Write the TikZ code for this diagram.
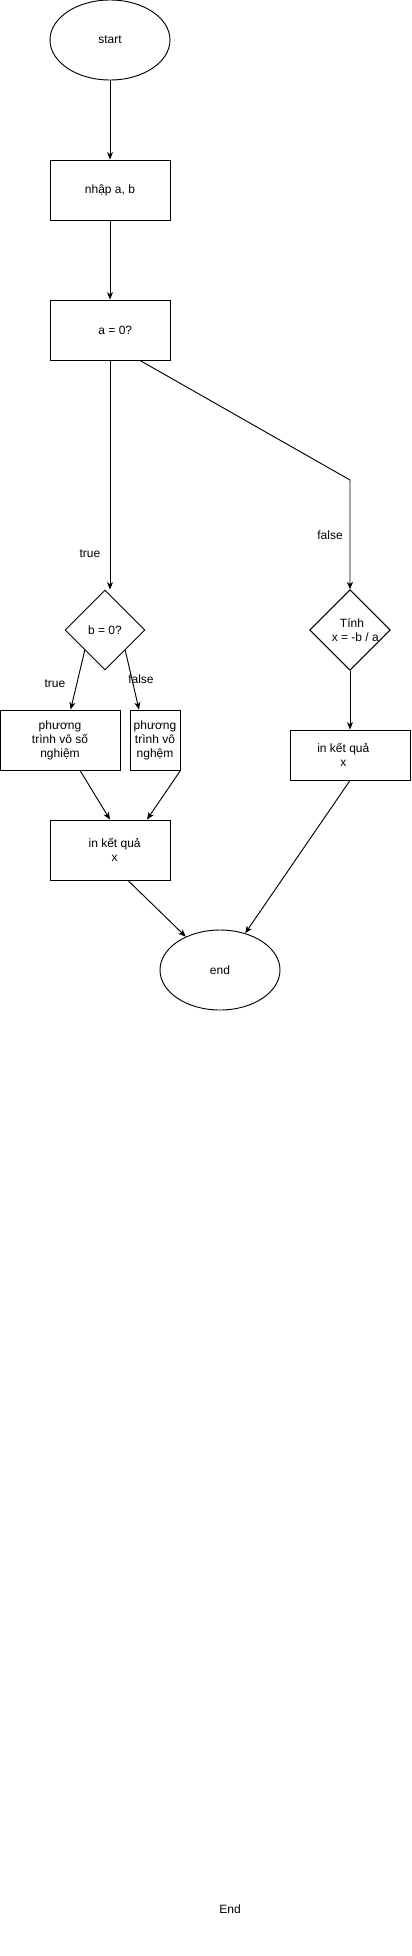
\documentclass[tikz,border=0pt]{standalone}
\usepackage{fontspec}
\setmainfont{Liberation Sans}
\usetikzlibrary{shapes.geometric, arrows.meta}

\begin{document}
\begin{tikzpicture}[x=0.75pt, y=-0.75pt, line width=0.7pt, font=\fontsize{9}{10.5}\selectfont,
		>={Stealth[length=5.5pt, width=4.5pt, inset=1.5pt]},
		term/.style={draw, ellipse, minimum width=90pt, minimum height=60pt},
		box/.style={draw, rectangle, minimum width=90pt, minimum height=45pt, align=center, inner sep=1pt},
		cond/.style={draw, diamond, minimum width=60pt, minimum height=60pt, inner sep=0pt, align=center}]
				\useasboundingbox (0, 0) rectangle (411, 1956);
				\node[term] (start)at(110, 40) {start};
				\node[box] (input)at(110, 190) {nhập a, b};
				\node[box] (condA)at(110, 330) {\hspace{8pt}a = 0?};
				\node[cond] (condB)at(105, 630) {b = 0?};
				\node[cond] (calc)at(350, 630) {\hspace{3pt}Tính\\\hspace{8pt}x = -b / a};
				\node[box] (vosonghiem)at(60, 740) {phương\\trình vô số\\nghiệm};
				\node[box, minimum width=37.5pt] (vonghiem)at(155, 740) {phương\\trình vô\\nghệm};
				\node[box, minimum height=37.5pt] (outR)at(350, 755) {in kết quả\hspace*{10pt}\\x\hspace*{10pt}};
				\node[box] (outL)at(110, 850) {\hspace*{7pt}in kết quả\\\hspace*{7pt}x};
				\node[term] (endE)at(220, 970) {end};
				\node (endT)at(230, 1909) {End};
				\coordinate (bend) at (350, 480);
				\node (trueA)at(90, 554) {true};
				\node (falseA)at(330, 535) {false};
				\node (trueB)at(55, 684) {true};
				\node (falseB)at(141, 679) {false};
				\draw[->] (start) -- (input);
				\draw[->] (input) -- (condA);
				\draw[->] (condA.south) -- (condA.south |- condB.north);
				\draw[->] ([xshift=22.5pt]condA.south) -- (bend) -- (calc.north);
				\draw[->] (condB.south west) -- ([xshift=8pt]vosonghiem.north);
				\draw[->] (condB.south east) -- ([xshift=-12pt]vonghiem.north);
				\draw[->] (calc.south) -- (outR.north);
				\draw[->] ([xshift=15pt]vosonghiem.south) -- (outL.north);
				\draw[->] (vonghiem.south east) -- ([xshift=27.75pt]outL.north);
				\draw[->] ([xshift=13.5pt]outL.south) -- (endE);
				\draw[->] (outR.south) -- (endE);
			\end{tikzpicture}
\end{document}
